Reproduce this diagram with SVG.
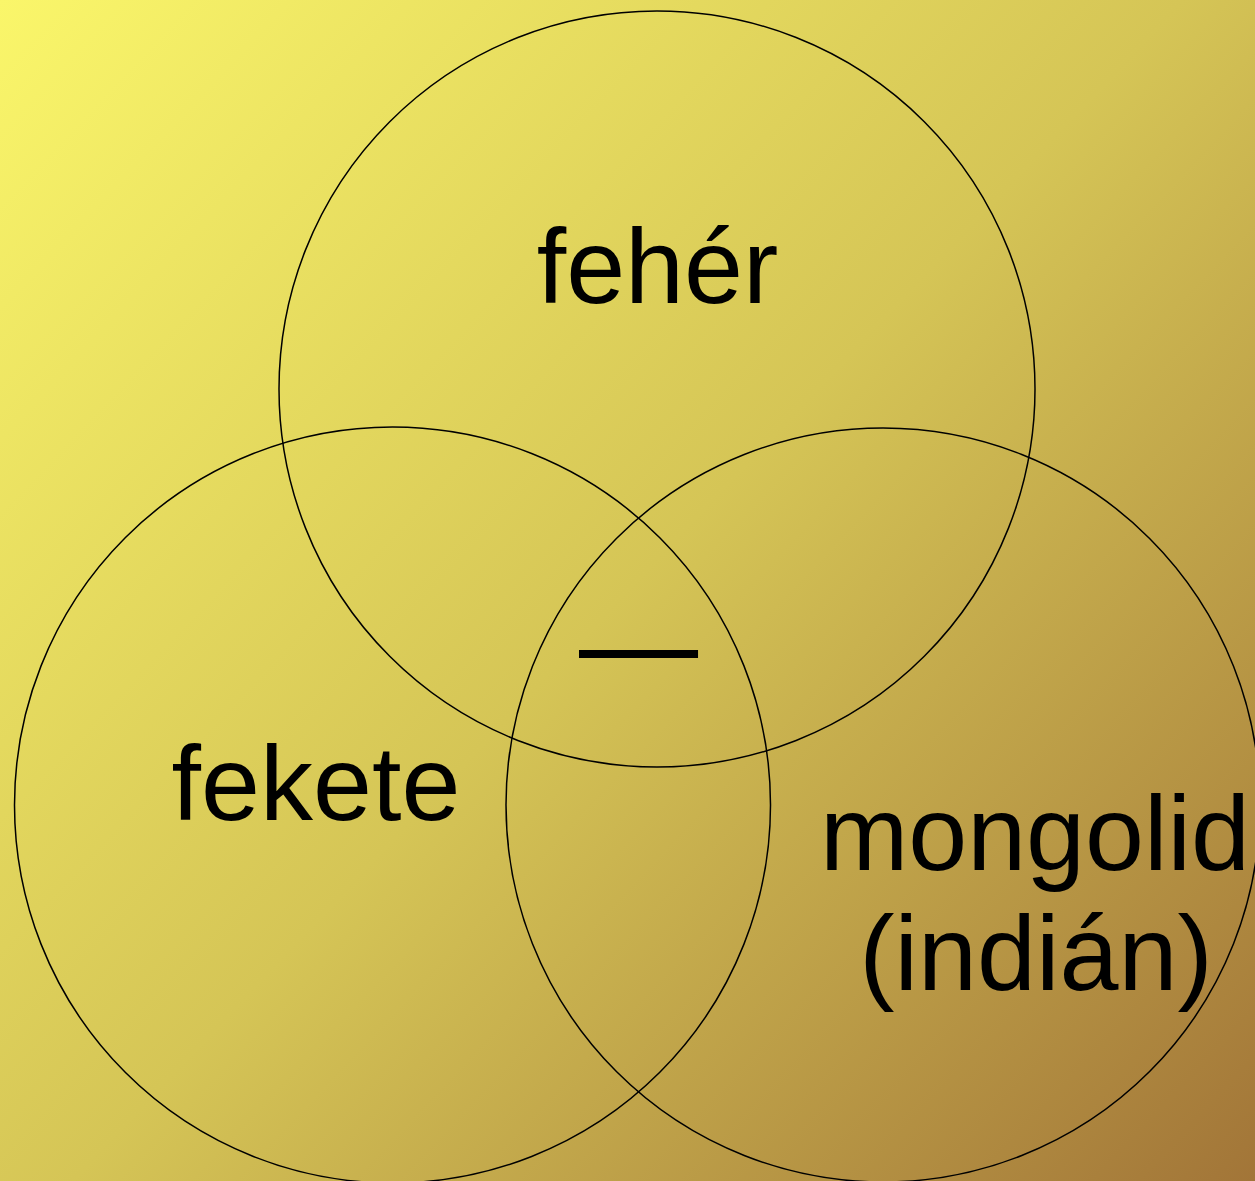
<svg xmlns="http://www.w3.org/2000/svg" width="1255" height="1181" viewBox="0 0 1255 1181">
<defs>
<linearGradient id="bg" gradientUnits="userSpaceOnUse" x1="0" y1="0" x2="1255" y2="1181">
<stop offset="0" stop-color="#FAF66A"/>
<stop offset="0.5" stop-color="#D5C556"/>
<stop offset="1" stop-color="#A27538"/>
</linearGradient>
<style>
.c{fill:none;stroke:#000;stroke-width:1.5}
.t{font-family:"Liberation Sans",Arial,sans-serif;font-size:106px;fill:#000;text-anchor:middle}
</style>
</defs>
<rect width="1255" height="1181" fill="url(#bg)"/>
<g id="feher"><circle class="c" cx="657" cy="389" r="378"/><text class="t" x="657.5" y="303">fehér</text></g>
<g id="fekete"><circle class="c" cx="392.5" cy="805" r="378"/><text class="t" x="316" y="820">fekete</text></g>
<g id="mongolid"><circle class="c" cx="883" cy="805" r="377"/><text class="t" x="1035" y="870">mongolid</text><text class="t" x="1036" y="990">(indián)</text></g>
<g id="center"><text class="t" x="638.5" y="684" style="font-size:118px" textLength="119" lengthAdjust="spacingAndGlyphs">—</text></g>
<g id="connectors"></g>
</svg>
